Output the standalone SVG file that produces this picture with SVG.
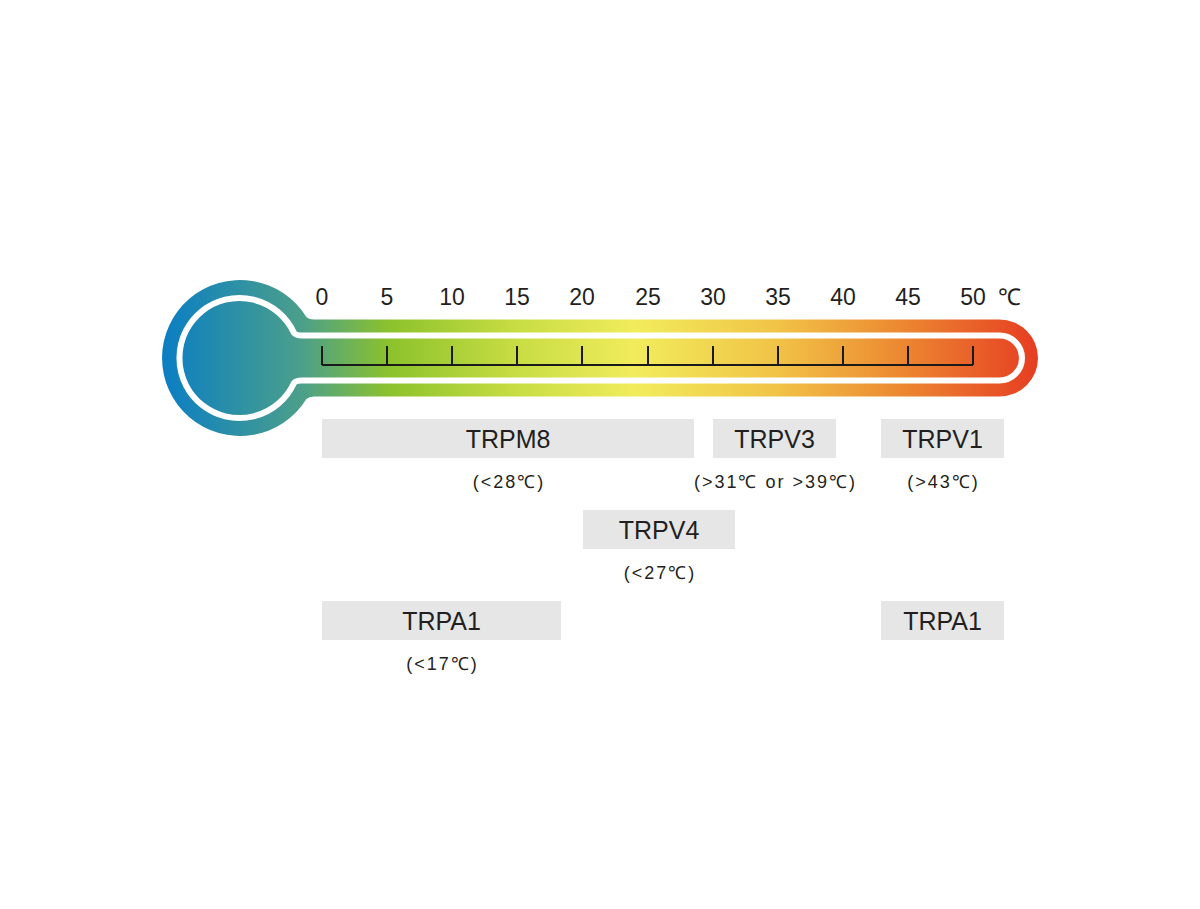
<svg xmlns="http://www.w3.org/2000/svg" width="1200" height="909" viewBox="0 0 1200 909">
<defs>
<linearGradient id="g" gradientUnits="userSpaceOnUse" x1="161" y1="0" x2="1038" y2="0">
<stop offset="0" stop-color="#0a7ec4"/>
<stop offset="0.16" stop-color="#4b9f8a"/>
<stop offset="0.26" stop-color="#8cc22c"/>
<stop offset="0.4" stop-color="#c6dc42"/>
<stop offset="0.54" stop-color="#f1ec5c"/>
<stop offset="0.7" stop-color="#f1c447"/>
<stop offset="0.84" stop-color="#ec8a32"/>
<stop offset="1" stop-color="#e63d22"/>
</linearGradient>
<style>
.num{font-family:"Liberation Sans",Arial,sans-serif;font-size:23px;fill:#231f20;text-anchor:middle}
.box{fill:#e6e6e7}
.lbl{font-family:"Liberation Sans",Arial,sans-serif;font-size:25px;fill:#231f20;text-anchor:middle}
.sub{font-family:"Liberation Sans",Arial,sans-serif;font-size:18px;fill:#231f20;text-anchor:middle;letter-spacing:2px}
.tick{stroke:#1a1a1a;stroke-width:2;fill:none}
</style>
</defs>
<rect width="1200" height="909" fill="#ffffff"/>
<g id="thermometer">
<path d="M 314 319.5 L 999.5 319.5 A 38.5 38.5 0 0 1 999.5 396.5 L 314 396.5 Q 309 396.5 306.4 399 A 78 78 0 1 1 306.4 317 Q 309 319.5 314 319.5 Z" fill="url(#g)"/>
<path d="M 302 335.5 L 999.5 335.5 A 22.5 22.5 0 0 1 999.5 380.5 L 302 380.5 Q 296 380.5 294 383 A 60 60 0 1 1 294 333 Q 296 335.5 302 335.5 Z" fill="none" stroke="#ffffff" stroke-width="6"/>
<path class="tick" d="M322 365 H973 M322 346 V365 M387 346 V365 M452 346 V365 M517 346 V365 M582 346 V365 M648 346 V365 M713 346 V365 M778 346 V365 M843 346 V365 M908 346 V365 M973 346 V365"/>
<g id="scale-labels">
<text class="num" x="322" y="305">0</text>
<text class="num" x="387" y="305">5</text>
<text class="num" x="452" y="305">10</text>
<text class="num" x="517" y="305">15</text>
<text class="num" x="582" y="305">20</text>
<text class="num" x="648" y="305">25</text>
<text class="num" x="713" y="305">30</text>
<text class="num" x="778" y="305">35</text>
<text class="num" x="843" y="305">40</text>
<text class="num" x="908" y="305">45</text>
<text class="num" x="973" y="305">50</text>
<text class="num" x="1009" y="305">℃</text>
</g>
</g>
<g id="connectors"></g>
<g id="trpm8">
<rect class="box" x="322" y="419" width="372" height="39"/>
<text class="lbl" x="508" y="448">TRPM8</text>
<text class="sub" x="509" y="488">(&lt;28℃)</text>
</g>
<g id="trpv3">
<rect class="box" x="713" y="419" width="123" height="39"/>
<text class="lbl" x="774.5" y="448">TRPV3</text>
<text class="sub" x="775.5" y="488">(&gt;31℃ or &gt;39℃)</text>
</g>
<g id="trpv1">
<rect class="box" x="881" y="419" width="123" height="39"/>
<text class="lbl" x="942.5" y="448">TRPV1</text>
<text class="sub" x="943.5" y="488">(&gt;43℃)</text>
</g>
<g id="trpv4">
<rect class="box" x="583" y="510" width="152" height="39"/>
<text class="lbl" x="659" y="539">TRPV4</text>
<text class="sub" x="660" y="579">(&lt;27℃)</text>
</g>
<g id="trpa1-cold">
<rect class="box" x="322" y="601" width="239" height="39"/>
<text class="lbl" x="441.5" y="630">TRPA1</text>
<text class="sub" x="442.5" y="670">(&lt;17℃)</text>
</g>
<g id="trpa1-hot">
<rect class="box" x="881" y="601" width="123" height="39"/>
<text class="lbl" x="942.5" y="630">TRPA1</text>
</g>
</svg>
